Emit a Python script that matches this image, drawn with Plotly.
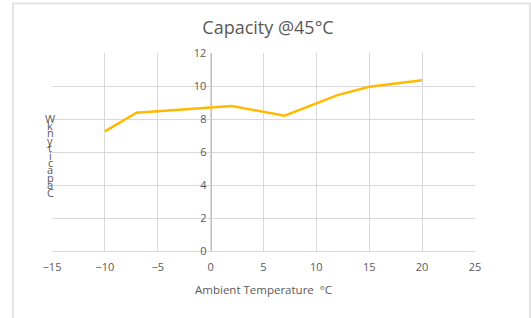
import plotly.graph_objects as go

temps = [-10, -7, 2, 7, 12, 15, 20]
capacity_kw = [7.25, 8.38, 8.79, 8.2, 9.45, 9.95, 10.35]
title_text = "Capacity @45°C"
x_title = "Ambient Temperature  °C"
y_title_chars = ["W", "k", "n", "y", "t", "i", "c", "a", "p", "a", "C"]

W, H = 531, 318
ml, mr, mt, mb = 52, 56, 53, 67
pw, ph = W - ml - mr, H - mt - mb
grey = "#595959"
font_family = "'Open Sans', Lato, Arial, sans-serif"

fig = go.Figure()
fig.add_trace(go.Scatter(
    x=temps, y=capacity_kw, mode="lines",
    line=dict(color="#FFB900", width=2.5), showlegend=False,
))

def px_to_paper_x(px):
    return (px - ml) / pw

def px_to_paper_y(py):
    return (H - mb - py) / ph

annotations = []
start_y, step_y = 118, 7.4
for i, ch in enumerate(y_title_chars):
    annotations.append(dict(
        text=ch, x=px_to_paper_x(50), y=px_to_paper_y(start_y + i * step_y),
        xref="paper", yref="paper", showarrow=False,
        font=dict(size=11, color=grey, family=font_family),
        xanchor="center", yanchor="middle",
    ))

fig.update_layout(
    width=W, height=H,
    margin=dict(l=ml, r=mr, t=mt, b=mb),
    paper_bgcolor="white", plot_bgcolor="white",
    font=dict(family=font_family, color=grey, size=11),
    title=dict(text=title_text, x=px_to_paper_x(268), xref="paper", xanchor="center",
               y=1 - 28 / H, yanchor="middle",
               font=dict(size=18, color=grey, family=font_family)),
    xaxis=dict(range=[-15, 25], dtick=5, tick0=-15, showgrid=True, gridcolor="#d9d9d9",
               gridwidth=1, zeroline=False, showline=True, linecolor="#d9d9d9",
               linewidth=1, ticks="", tickfont=dict(size=11, color=grey),
               ticklabelstandoff=6,
               title=dict(text=x_title, font=dict(size=11.5, color=grey), standoff=12),
               domain=[0, 1]),
    yaxis=dict(range=[0, 12], dtick=2, showgrid=True, gridcolor="#d9d9d9", gridwidth=1,
               zeroline=False, showline=True, linecolor="#bfbfbf", linewidth=1,
               anchor="free", position=15 / 40, ticks="",
               tickfont=dict(size=11, color=grey), ticklabelstandoff=2),
    annotations=annotations,
    shapes=[dict(type="rect", xref="paper", yref="paper",
                 x0=px_to_paper_x(13), x1=px_to_paper_x(530),
                 y0=px_to_paper_y(330), y1=px_to_paper_y(3.5),
                 line=dict(color="#e3e3e3", width=2), layer="below")],
)

fig.write_html("out.html", config={"displayModeBar": False},
               post_script="document.body.style.margin='0';document.body.style.overflow='hidden';")
